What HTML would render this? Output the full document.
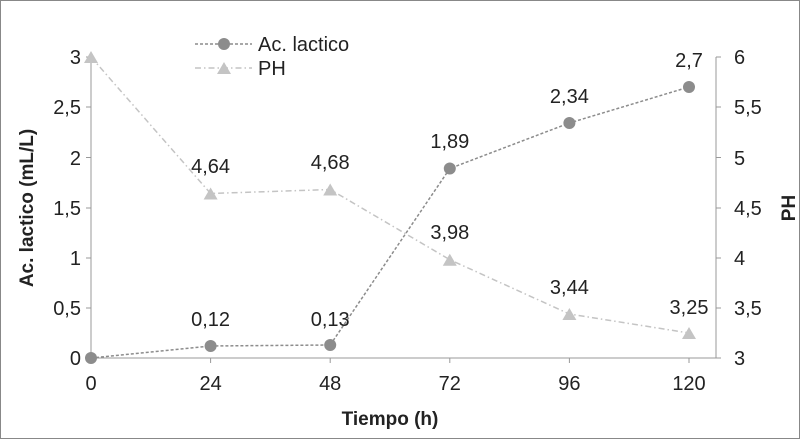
<!DOCTYPE html>
<html><head><style>body{margin:0;background:#fff}svg{display:block}</style></head><body>
<svg width="800" height="439" xmlns="http://www.w3.org/2000/svg" font-family="Liberation Sans, Arial, sans-serif">
<rect x="0.5" y="0.5" width="799" height="438" fill="#fff" stroke="#888"/>
<g stroke="#999" stroke-width="1">
<line x1="91" y1="57" x2="91" y2="358"/>
<line x1="91" y1="358" x2="716" y2="358"/>
<line x1="716" y1="57" x2="716" y2="358"/>
<line x1="86" y1="57" x2="91" y2="57"/><line x1="86" y1="107" x2="91" y2="107"/><line x1="86" y1="157.5" x2="91" y2="157.5"/><line x1="86" y1="208" x2="91" y2="208"/><line x1="86" y1="258" x2="91" y2="258"/><line x1="86" y1="308" x2="91" y2="308"/><line x1="86" y1="358" x2="91" y2="358"/>
<line x1="716" y1="57" x2="721" y2="57"/><line x1="716" y1="107" x2="721" y2="107"/><line x1="716" y1="157.5" x2="721" y2="157.5"/><line x1="716" y1="208" x2="721" y2="208"/><line x1="716" y1="258" x2="721" y2="258"/><line x1="716" y1="308" x2="721" y2="308"/><line x1="716" y1="358" x2="721" y2="358"/>
<line x1="91" y1="358" x2="91" y2="363"/><line x1="210.6" y1="358" x2="210.6" y2="363"/><line x1="330.2" y1="358" x2="330.2" y2="363"/><line x1="449.8" y1="358" x2="449.8" y2="363"/><line x1="569.4" y1="358" x2="569.4" y2="363"/><line x1="689" y1="358" x2="689" y2="363"/>
</g>
<g font-size="20" fill="#222" text-anchor="end">
<text x="81" y="64">3</text><text x="81" y="114">2,5</text><text x="81" y="165">2</text><text x="81" y="215">1,5</text><text x="81" y="265">1</text><text x="81" y="315">0,5</text><text x="81" y="365">0</text>
</g>
<g font-size="20" fill="#222" text-anchor="start">
<text x="734" y="64">6</text><text x="734" y="114">5,5</text><text x="734" y="165">5</text><text x="734" y="215">4,5</text><text x="734" y="265">4</text><text x="734" y="315">3,5</text><text x="734" y="365">3</text>
</g>
<g font-size="20" fill="#222" text-anchor="middle">
<text x="91" y="390">0</text><text x="210.6" y="390">24</text><text x="330.2" y="390">48</text><text x="449.8" y="390">72</text><text x="569.4" y="390">96</text><text x="689" y="390">120</text>
</g>
<text x="390" y="425" font-size="19" font-weight="bold" text-anchor="middle" fill="#222">Tiempo (h)</text>
<text transform="translate(33,208) rotate(-90)" font-size="19" font-weight="bold" text-anchor="middle" fill="#222">Ac. lactico (mL/L)</text>
<text transform="translate(795,208) rotate(-90)" font-size="19" font-weight="bold" text-anchor="middle" fill="#222">PH</text>
<polyline points="91,57 210.6,193.5 330.2,189.5 449.8,259.7 569.4,314 689,333" fill="none" stroke="#c4c4c4" stroke-width="1.5" stroke-dasharray="6,3,1.5,3"/>
<polyline points="91,358 210.6,346 330.2,345 449.8,168.5 569.4,123 689,87" fill="none" stroke="#8c8c8c" stroke-width="1.5" stroke-dasharray="3,2"/>
<g fill="#c4c4c4">
<polygon points="91,51 98,63 84,63"/><polygon points="210.6,187.5 217.6,199.5 203.6,199.5"/><polygon points="330.2,183.5 337.2,195.5 323.2,195.5"/><polygon points="449.8,253.7 456.8,265.7 442.8,265.7"/><polygon points="569.4,308 576.4,320 562.4,320"/><polygon points="689,327 696,339 682,339"/>
</g>
<g fill="#8c8c8c">
<circle cx="91" cy="358" r="6"/><circle cx="210.6" cy="346" r="6"/><circle cx="330.2" cy="345" r="6"/><circle cx="449.8" cy="168.5" r="6"/><circle cx="569.4" cy="123" r="6"/><circle cx="689" cy="87" r="6"/>
</g>
<g font-size="20" fill="#222" text-anchor="middle">
<text x="210.6" y="173">4,64</text><text x="330.2" y="169">4,68</text><text x="449.8" y="239">3,98</text><text x="569.4" y="294">3,44</text><text x="689" y="314">3,25</text>
<text x="210.6" y="326">0,12</text><text x="330.2" y="326">0,13</text><text x="449.8" y="148">1,89</text><text x="569.4" y="103">2,34</text><text x="689" y="67">2,7</text>
</g>
<line x1="195" y1="44" x2="252" y2="44" stroke="#8c8c8c" stroke-width="1.5" stroke-dasharray="3,2"/>
<circle cx="224" cy="44" r="6" fill="#8c8c8c"/>
<text x="258" y="51" font-size="20" fill="#222">Ac. lactico</text>
<line x1="195" y1="68" x2="252" y2="68" stroke="#c4c4c4" stroke-width="1.5" stroke-dasharray="6,3,1.5,3"/>
<polygon points="224,62 231,74 217,74" fill="#c4c4c4"/>
<text x="258" y="75" font-size="20" fill="#222">PH</text>
</svg>
</body></html>
